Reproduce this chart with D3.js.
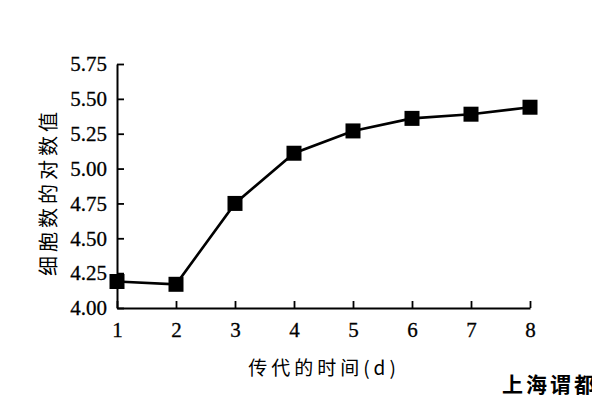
<!DOCTYPE html>
<html>
<head>
<meta charset="utf-8">
<script src="https://cdn.jsdelivr.net/npm/d3@7"></script>
<style>
  html, body { margin: 0; padding: 0; background: #fff; }
  svg { display: block; }
</style>
</head>
<body>
<div id="chart"></div>
<script>
// passage day vs log of cell count
const days = [1, 2, 3, 4, 5, 6, 7, 8];
const logCells = [4.19, 4.17, 4.75, 5.11, 5.27, 5.36, 5.39, 5.44];
const yTicks = [4.00, 4.25, 4.50, 4.75, 5.00, 5.25, 5.50, 5.75];
const xLabel = '传代的时间(d)';
const yLabel = '细胞数的对数值';
const watermark = '上海谓都';

const W = 592, H = 397;
const svg = d3.select('#chart').append('svg')
  .attr('width', W).attr('height', H);

const x = d3.scaleLinear().domain([1, 8]).range([117, 530]);
const y = d3.scaleLinear().domain([4, 5.75]).range([308, 64]);

const serif = '"Liberation Serif", "DejaVu Serif", serif';
const cjk = '"Noto Sans CJK SC", sans-serif';

// x axis
const gx = svg.append('g')
  .attr('transform', `translate(0,${y(4)})`)
  .call(d3.axisBottom(x).tickValues(days).tickFormat(d3.format('d'))
    .tickSizeInner(-7).tickSizeOuter(0).tickPadding(14));

// y axis
const gy = svg.append('g')
  .attr('transform', `translate(${x(1)},0)`)
  .call(d3.axisLeft(y).tickValues(yTicks).tickFormat(d3.format('.2f'))
    .tickSizeInner(-7).tickSizeOuter(0).tickPadding(10));

[gx, gy].forEach(g => {
  g.select('.domain').attr('stroke', '#000').attr('stroke-width', 2);
  g.selectAll('.tick line').attr('stroke', '#000').attr('stroke-width', 1.8);
  g.selectAll('.tick text')
    .attr('fill', '#000')
    .attr('stroke', '#000')
    .attr('stroke-width', 0.3)
    .style('font-family', serif)
    .style('font-size', '21px');
});

// line + square markers
const line = d3.line().x((d, i) => x(days[i])).y(d => y(d));
svg.append('path')
  .datum(logCells)
  .attr('d', line)
  .attr('fill', 'none')
  .attr('stroke', '#000')
  .attr('stroke-width', 2.6);

const s = 15;
svg.selectAll('rect.pt')
  .data(logCells)
  .join('rect')
  .attr('class', 'pt')
  .attr('x', (d, i) => x(days[i]) - s / 2)
  .attr('y', d => y(d) - s / 2)
  .attr('width', s).attr('height', s)
  .attr('fill', '#000');

// axis titles
svg.append('text')
  .attr('x', 324).attr('y', 375)
  .attr('text-anchor', 'middle')
  .style('font-family', cjk)
  .style('font-size', '19px')
  .style('letter-spacing', '4px')
  .text(xLabel);

svg.append('text')
  .attr('transform', 'translate(56,192) rotate(-90)')
  .attr('text-anchor', 'middle')
  .style('font-family', cjk)
  .style('font-size', '20px')
  .style('letter-spacing', '4px')
  .text(yLabel);

// caption at bottom right, running off the edge as in the scan
svg.append('text')
  .attr('x', 502).attr('y', 392)
  .style('font-family', cjk)
  .style('font-size', '21px')
  .style('font-weight', 'bold')
  .style('letter-spacing', '3px')
  .text(watermark);
</script>
</body>
</html>
